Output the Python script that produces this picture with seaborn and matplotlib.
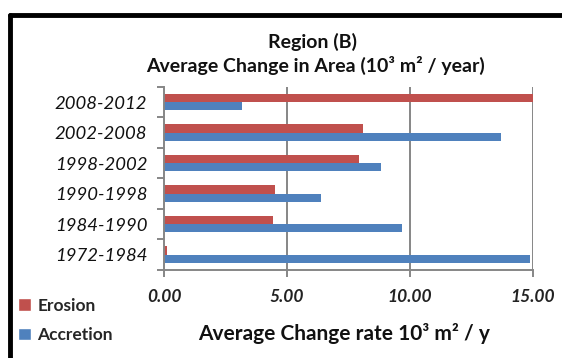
import matplotlib
matplotlib.use("Agg")
import matplotlib.pyplot as plt
from matplotlib.lines import Line2D
from matplotlib.patches import Patch
import seaborn as sns
import pandas as pd

periods = ["2008-2012", "2002-2008", "1998-2002", "1990-1998", "1984-1990", "1972-1984"]
erosion = [15.0, 8.10, 7.91, 4.52, 4.45, 0.11]
accretion = [3.16, 13.68, 8.83, 6.39, 9.66, 14.86]
series = ["Erosion", "Accretion"]
xticks = [0, 5, 10, 15]

red = "#C0504D"
blue = "#4F81BD"
grey = "#868686"

df = pd.DataFrame({
    "period": periods * 2,
    "rate": erosion + accretion,
    "type": [series[0]] * len(periods) + [series[1]] * len(periods),
})

sns.set_theme(style="white")
plt.rcParams["font.family"] = ["Lato", "DejaVu Sans"]

fig = plt.figure(figsize=(5.62, 3.58), dpi=100)
ax = fig.add_axes([0.2918, 0.246, 0.6566, 0.511])

sns.barplot(data=df, y="period", x="rate", hue="type", order=periods,
            hue_order=series, palette=[red, blue], width=0.54,
            orient="h", ax=ax, legend=False, edgecolor="none", saturation=1)

ax.set_xlim(0, 15)
ax.set_ylim(len(periods) - 0.5, -0.5)

# vertical gridlines
for v in xticks[1:]:
    ax.axvline(v, color=grey, lw=1.4, zorder=0)

for s in ["top", "right"]:
    ax.spines[s].set_visible(False)
for s in ["left", "bottom"]:
    ax.spines[s].set_color(grey)
    ax.spines[s].set_linewidth(1.4)

ax.set_xticks(xticks)
ax.set_xticklabels([f"{v:.2f}" for v in xticks], fontsize=12.5,
                   fontstyle="italic", fontweight="bold", color="#222222")
ax.tick_params(axis="x", length=5, width=1.4, color=grey, pad=9,
               bottom=True)

# category boundaries as y ticks
ax.set_yticks([i - 0.5 for i in range(len(periods) + 1)], minor=True)
ax.tick_params(axis="y", which="minor", length=5, width=1.4, color=grey,
               left=True)
ax.tick_params(axis="y", which="major", length=0, pad=12)
ax.set_yticks(range(len(periods)))
ax.set_yticklabels(periods, fontsize=13.3, fontstyle="italic", color="#111111")

ax.set_xlabel("Average Change rate 10³ m² / y", fontsize=15,
              fontweight="bold", color="#111111", labelpad=8)
ax.xaxis.set_label_coords(0.489, -0.29)
ax.set_ylabel("")

fig.text(0.556, 0.883, "Region (B)", ha="center", va="center",
         fontsize=14, fontweight="bold", color="#111111")
fig.text(0.562, 0.818, "Average Change in Area (10³ m² / year)", ha="center",
         va="center", fontsize=14, fontweight="bold", color="#111111")

# legend
handles = [Patch(facecolor=red), Patch(facecolor=blue)]
fig.legend(handles, series, loc="center left", bbox_to_anchor=(0.005, 0.105),
           frameon=False, handlelength=0.75, handleheight=0.75,
           handletextpad=0.35, labelspacing=0.75,
           prop={"weight": "bold", "size": 12.5})

# outer frame
fig.add_artist(Line2D([0.0178, 1.0], [0.958, 0.958], color="black", lw=3.5,
                      transform=fig.transFigure))
fig.add_artist(Line2D([0.0178, 0.0178], [0.958, 0.0], color="black", lw=3.5,
                      transform=fig.transFigure))

fig.savefig("out.png", dpi=100)
